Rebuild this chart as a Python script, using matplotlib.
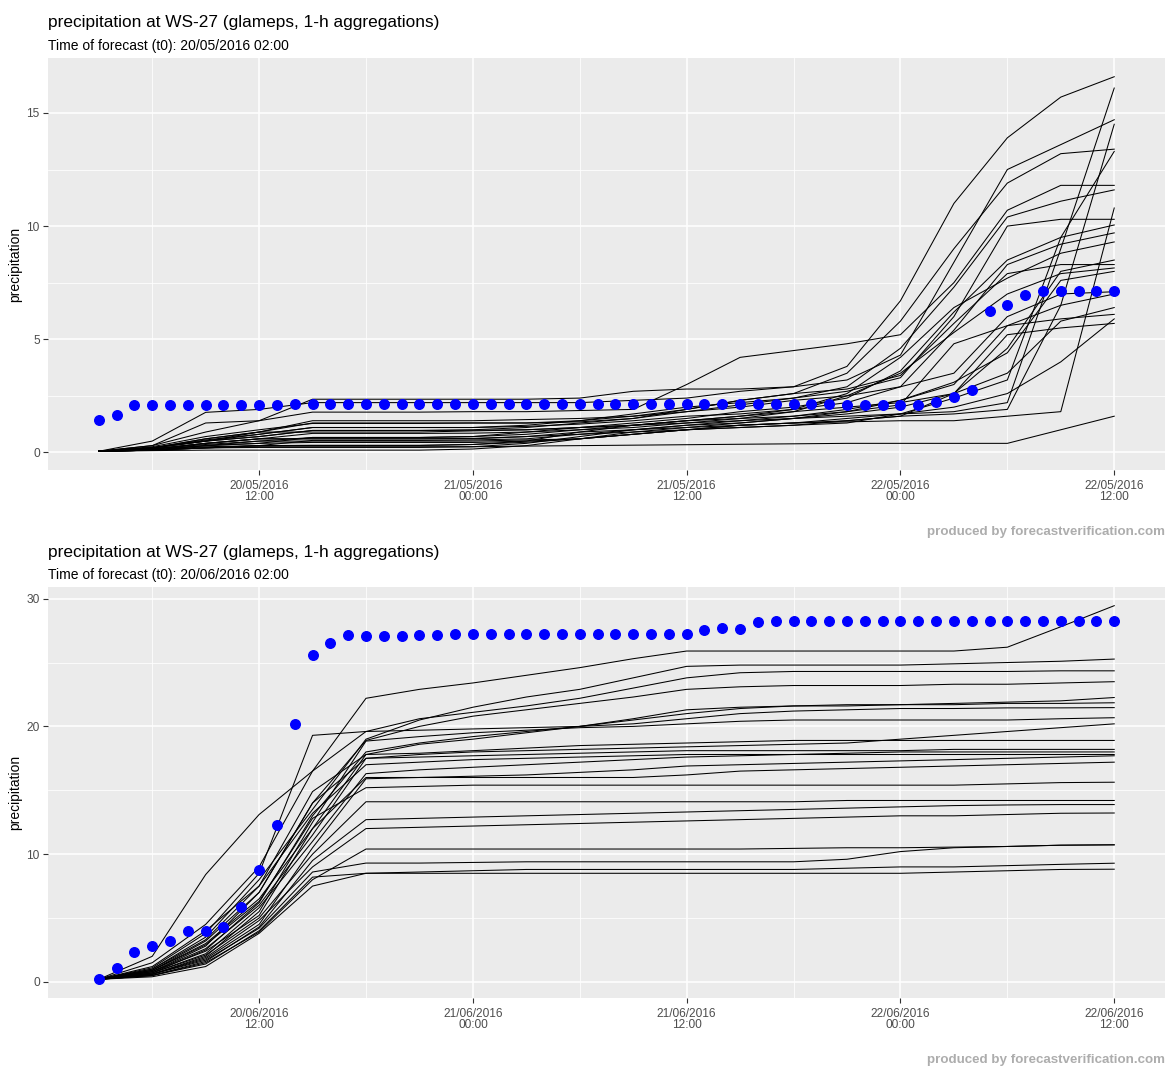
import numpy as np
import matplotlib.pyplot as plt

plt.rcParams['font.family'] = ['Liberation Sans', 'DejaVu Sans']

# hours since 00:00 of the forecast day
obs_hours = np.arange(3, 61)      # hourly observations
ens_hours = np.arange(3, 61, 3)   # 3-hourly ensemble steps

major_hours = [12, 24, 36, 48, 60]
minor_hours = [6, 18, 30, 42, 54]

may_ticks = ["20/05/2016\n12:00", "21/05/2016\n00:00", "21/05/2016\n12:00",
             "22/05/2016\n00:00", "22/05/2016\n12:00"]
jun_ticks = ["20/06/2016\n12:00", "21/06/2016\n00:00", "21/06/2016\n12:00",
             "22/06/2016\n00:00", "22/06/2016\n12:00"]

# observed accumulated precipitation (blue dots)
may_obs = [1.42, 1.64, 2.08, 2.08, 2.08, 2.08, 2.08, 2.08, 2.08, 2.08,
           2.08, 2.12, 2.12, 2.12, 2.12, 2.12, 2.12, 2.12, 2.12, 2.12,
           2.12, 2.12, 2.12, 2.12, 2.12, 2.12, 2.12, 2.12, 2.12, 2.12,
           2.12, 2.12, 2.12, 2.12, 2.12, 2.12, 2.12, 2.12, 2.12, 2.12,
           2.12, 2.12, 2.11, 2.11, 2.11, 2.11, 2.11, 2.23, 2.45, 2.77,
           6.24, 6.53, 6.95, 7.14, 7.14, 7.14, 7.14, 7.14]
jun_obs = [0.26, 1.05, 2.30, 2.80, 3.22, 4.00, 4.00, 4.32, 5.84, 8.77,
           12.3, 20.2, 25.6, 26.5, 27.15, 27.1, 27.1, 27.1, 27.15, 27.15,
           27.2, 27.25, 27.25, 27.25, 27.2, 27.2, 27.2, 27.2, 27.2, 27.23,
           27.23, 27.23, 27.23, 27.23, 27.55, 27.68, 27.63, 28.15, 28.28, 28.28,
           28.28, 28.28, 28.28, 28.28, 28.28, 28.28, 28.28, 28.28, 28.28, 28.28,
           28.28, 28.28, 28.28, 28.28, 28.28, 28.28, 28.28, 28.28]

# ensemble members, accumulated precipitation every 3 h
may_members = [
    [0.05, 0.5, 1.77, 1.9, 2.2, 2.2, 2.2, 2.2, 2.2, 2.2, 2.3, 2.4, 2.7, 2.9, 3.8, 6.7, 11.0, 13.9, 15.7, 16.6],
    [0.05, 0.2, 0.6, 0.9, 0.9, 0.9, 0.9, 0.95, 1.0, 1.1, 1.2, 1.3, 1.4, 1.5, 1.6, 1.7, 1.8, 2.2, 9.0, 16.1],
    [0.05, 0.3, 0.9, 1.4, 2.35, 2.35, 2.35, 2.35, 2.35, 2.4, 2.7, 2.8, 2.8, 2.9, 3.2, 4.3, 8.4, 12.5, 13.6, 14.7],
    [0.05, 0.15, 0.4, 0.6, 0.6, 0.6, 0.6, 0.6, 0.7, 0.9, 1.0, 1.1, 1.2, 1.3, 1.4, 1.6, 1.7, 1.9, 6.5, 14.5],
    [0.05, 0.2, 0.5, 0.8, 1.1, 1.1, 1.1, 1.1, 1.2, 1.4, 1.6, 1.9, 2.3, 2.6, 3.5, 5.8, 9.0, 11.9, 13.2, 13.4],
    [0.05, 0.1, 0.3, 0.5, 0.5, 0.5, 0.5, 0.5, 0.55, 0.6, 0.8, 1.0, 1.1, 1.2, 1.3, 1.7, 2.4, 3.2, 9.5, 13.3],
    [0.05, 0.3, 1.3, 1.4, 1.78, 1.78, 1.78, 1.8, 1.8, 1.85, 1.9, 3.0, 4.2, 4.5, 4.8, 5.2, 7.5, 10.7, 11.8, 11.8],
    [0.05, 0.2, 0.6, 0.9, 1.3, 1.3, 1.3, 1.3, 1.3, 1.4, 1.7, 2.0, 2.2, 2.4, 2.9, 4.6, 7.3, 10.4, 11.1, 11.6],
    [0.05, 0.1, 0.3, 0.4, 0.44, 0.44, 0.44, 0.44, 0.5, 0.6, 0.8, 1.0, 1.2, 1.3, 1.35, 1.4, 1.4, 1.6, 1.8, 10.8],
    [0.05, 0.2, 0.5, 0.7, 0.97, 0.97, 0.97, 1.0, 1.1, 1.3, 1.5, 1.8, 2.1, 2.4, 2.7, 3.3, 6.0, 10.0, 10.3, 10.3],
    [0.05, 0.15, 0.35, 0.5, 0.66, 0.66, 0.66, 0.7, 0.9, 1.1, 1.3, 1.5, 1.8, 2.0, 2.4, 3.6, 6.2, 8.5, 9.5, 10.05],
    [0.05, 0.1, 0.25, 0.3, 0.31, 0.31, 0.31, 0.35, 0.5, 0.9, 1.2, 1.4, 1.6, 1.9, 2.2, 2.9, 5.4, 8.3, 9.2, 9.7],
    [0.05, 0.2, 0.55, 0.8, 1.1, 1.1, 1.1, 1.1, 1.15, 1.25, 1.4, 1.6, 1.7, 1.9, 2.6, 4.2, 6.4, 7.7, 8.8, 9.3],
    [0.05, 0.1, 0.2, 0.22, 0.22, 0.22, 0.22, 0.25, 0.4, 0.7, 1.0, 1.2, 1.3, 1.5, 1.7, 2.0, 2.6, 4.6, 8.0, 8.5],
    [0.05, 0.25, 0.7, 1.0, 1.28, 1.28, 1.28, 1.3, 1.3, 1.35, 1.5, 1.9, 2.3, 2.6, 2.8, 3.4, 5.7, 7.9, 8.3, 8.3],
    [0.05, 0.15, 0.4, 0.6, 0.84, 0.84, 0.84, 0.85, 0.9, 1.0, 1.1, 1.3, 1.5, 1.8, 2.5, 3.5, 5.3, 7.0, 7.9, 8.15],
    [0.05, 0.1, 0.2, 0.3, 0.53, 0.53, 0.53, 0.55, 0.6, 0.8, 1.0, 1.2, 1.4, 1.6, 1.9, 2.3, 3.1, 4.4, 7.6, 8.0],
    [0.05, 0.2, 0.5, 0.9, 1.4, 1.4, 1.4, 1.4, 1.45, 1.5, 1.6, 1.8, 2.0, 2.3, 2.5, 2.9, 3.5, 6.0, 7.0, 7.1],
    [0.05, 0.08, 0.1, 0.1, 0.1, 0.1, 0.1, 0.15, 0.3, 0.6, 0.9, 1.1, 1.3, 1.5, 1.8, 2.3, 3.0, 5.6, 6.5, 7.0],
    [0.05, 0.2, 0.5, 0.7, 0.97, 0.97, 0.97, 0.98, 1.0, 1.1, 1.2, 1.4, 1.6, 1.8, 2.0, 2.2, 2.6, 3.5, 5.8, 6.4],
    [0.05, 0.15, 0.3, 0.4, 0.66, 0.66, 0.66, 0.7, 0.8, 1.0, 1.2, 1.4, 1.5, 1.6, 1.8, 2.1, 4.8, 5.6, 5.9, 6.1],
    [0.05, 0.1, 0.2, 0.3, 0.31, 0.31, 0.31, 0.35, 0.45, 0.6, 0.8, 1.0, 1.2, 1.3, 1.5, 1.7, 2.0, 2.6, 4.0, 5.9],
    [0.05, 0.15, 0.4, 0.6, 0.6, 0.6, 0.6, 0.62, 0.7, 0.8, 0.9, 1.0, 1.1, 1.2, 1.4, 1.6, 2.6, 5.2, 5.5, 5.7],
    [0.05, 0.1, 0.2, 0.25, 0.25, 0.25, 0.25, 0.25, 0.28, 0.3, 0.32, 0.34, 0.36, 0.38, 0.4, 0.4, 0.4, 0.4, 1.0, 1.6],
]

jun_members = [
    [0.2, 1.5, 4.5, 9.0, 16.5, 22.2, 22.9, 23.4, 24.0, 24.6, 25.3, 25.9, 25.9, 25.9, 25.9, 25.9, 25.9, 26.2, 27.8, 29.45],
    [0.2, 1.0, 3.5, 8.0, 13.5, 19.0, 20.5, 21.5, 22.3, 22.9, 23.8, 24.7, 24.8, 24.8, 24.8, 24.8, 24.9, 25.0, 25.1, 25.27],
    [0.2, 2.0, 8.4, 13.1, 16.5, 19.6, 20.6, 21.1, 21.6, 22.2, 23.0, 23.8, 24.2, 24.3, 24.3, 24.3, 24.3, 24.3, 24.35, 24.35],
    [0.2, 0.8, 2.8, 7.0, 14.0, 18.9, 20.0, 20.8, 21.3, 21.8, 22.3, 22.9, 23.1, 23.2, 23.2, 23.2, 23.3, 23.3, 23.4, 23.5],
    [0.2, 0.9, 3.0, 6.5, 12.0, 17.8, 18.6, 19.0, 19.5, 20.0, 20.6, 21.3, 21.5, 21.6, 21.6, 21.7, 21.8, 21.9, 22.0, 22.26],
    [0.2, 0.7, 2.5, 6.2, 13.0, 18.0, 18.7, 19.2, 19.6, 20.0, 20.5, 21.0, 21.4, 21.6, 21.7, 21.7, 21.7, 21.8, 21.8, 21.85],
    [0.2, 1.1, 3.8, 8.5, 19.3, 19.6, 19.7, 19.8, 19.9, 20.0, 20.2, 20.6, 21.0, 21.2, 21.3, 21.4, 21.4, 21.45, 21.45, 21.47],
    [0.2, 0.6, 2.0, 5.5, 12.5, 18.85, 19.2, 19.5, 19.7, 19.9, 20.0, 20.2, 20.4, 20.5, 20.5, 20.5, 20.5, 20.5, 20.6, 20.68],
    [0.2, 0.8, 2.6, 6.0, 11.5, 17.5, 17.8, 18.0, 18.1, 18.2, 18.3, 18.4, 18.5, 18.6, 18.7, 19.0, 19.3, 19.6, 19.9, 20.2],
    [0.2, 1.2, 4.0, 7.5, 14.9, 17.8, 17.9, 18.1, 18.3, 18.5, 18.6, 18.7, 18.8, 18.9, 18.9, 18.9, 18.9, 18.9, 18.9, 18.9],
    [0.2, 0.9, 3.2, 7.0, 14.0, 17.5, 17.6, 17.7, 17.8, 17.9, 18.0, 18.1, 18.1, 18.1, 18.1, 18.1, 18.2, 18.2, 18.2, 18.2],
    [0.2, 0.7, 2.2, 5.8, 11.0, 16.3, 16.6, 16.8, 17.0, 17.2, 17.4, 17.6, 17.7, 17.8, 17.9, 18.0, 18.0, 18.0, 18.0, 18.0],
    [0.2, 1.0, 3.3, 7.5, 13.2, 17.0, 17.2, 17.4, 17.5, 17.6, 17.7, 17.8, 17.8, 17.8, 17.8, 17.8, 17.8, 17.8, 17.8, 17.8],
    [0.2, 0.6, 1.8, 4.5, 10.5, 15.9, 16.0, 16.1, 16.2, 16.4, 16.6, 16.9, 17.0, 17.1, 17.2, 17.3, 17.4, 17.5, 17.6, 17.7],
    [0.2, 0.8, 2.4, 5.2, 12.0, 16.0, 16.0, 16.0, 16.0, 16.0, 16.0, 16.2, 16.5, 16.6, 16.7, 16.8, 16.9, 17.0, 17.1, 17.2],
    [0.2, 0.9, 2.9, 6.3, 12.8, 15.2, 15.3, 15.4, 15.4, 15.4, 15.4, 15.4, 15.4, 15.4, 15.4, 15.4, 15.4, 15.5, 15.6, 15.63],
    [0.2, 0.7, 2.1, 5.0, 10.0, 14.1, 14.1, 14.1, 14.1, 14.1, 14.1, 14.1, 14.1, 14.1, 14.2, 14.2, 14.2, 14.2, 14.2, 14.2],
    [0.2, 0.5, 1.6, 4.3, 9.5, 12.7, 12.8, 12.9, 13.0, 13.1, 13.2, 13.3, 13.4, 13.5, 13.6, 13.7, 13.8, 13.85, 13.88, 13.88],
    [0.2, 0.6, 1.9, 4.8, 9.0, 12.0, 12.1, 12.2, 12.3, 12.4, 12.5, 12.6, 12.7, 12.8, 12.9, 13.0, 13.0, 13.1, 13.2, 13.22],
    [0.2, 0.5, 1.5, 3.9, 8.0, 10.4, 10.4, 10.4, 10.4, 10.4, 10.4, 10.4, 10.4, 10.45, 10.5, 10.5, 10.55, 10.6, 10.7, 10.73],
    [0.2, 0.6, 1.7, 4.2, 8.6, 9.3, 9.3, 9.35, 9.4, 9.4, 9.4, 9.4, 9.4, 9.4, 9.6, 10.2, 10.5, 10.6, 10.7, 10.73],
    [0.2, 0.5, 1.4, 4.0, 8.2, 8.5, 8.6, 8.7, 8.8, 8.8, 8.8, 8.8, 8.8, 8.8, 8.9, 9.0, 9.0, 9.1, 9.2, 9.29],
    [0.2, 0.4, 1.2, 3.8, 7.5, 8.5, 8.5, 8.5, 8.5, 8.5, 8.5, 8.5, 8.5, 8.5, 8.5, 8.5, 8.6, 8.7, 8.8, 8.82],
]

title = "precipitation at WS-27 (glameps, 1-h aggregations)"
caption = "produced by forecastverification.com"

fig = plt.figure(figsize=(11.66, 10.66), dpi=100)
W, H = 1166, 1066


def panel(top_px, bottom_px, members, obs, ticklabels, ybreaks, yminor, t0):
    ax = fig.add_axes([48 / W, 1 - bottom_px / H, 1117 / W, (bottom_px - top_px) / H])
    ax.set_facecolor('#EBEBEB')
    for s in ax.spines.values():
        s.set_visible(False)

    for m in members:
        ax.plot(ens_hours, m, color='black', lw=0.75, zorder=3)
    ax.plot(obs_hours, obs, 'o', color='#0000FF', ms=6.9, mec='#0000FF', zorder=4)

    x0, x1 = obs_hours[0], obs_hours[-1]
    pad = 0.05 * (x1 - x0)
    ax.set_xlim(x0 - pad, x1 + pad)
    lo = min(min(min(m) for m in members), min(obs))
    hi = max(max(max(m) for m in members), max(obs))
    ypad = 0.05 * (hi - lo)
    ax.set_ylim(lo - ypad, hi + ypad)

    ax.set_xticks(major_hours)
    ax.set_xticklabels(ticklabels, linespacing=0.95)
    ax.set_xticks(minor_hours, minor=True)
    ax.set_yticks(ybreaks)
    ax.set_yticks(yminor, minor=True)
    ax.grid(which='major', color='white', lw=1.1, zorder=0)
    ax.grid(which='minor', color='white', lw=0.55, zorder=0)
    ax.set_axisbelow(True)
    ax.tick_params(which='major', length=3.5, width=0.8, color='#333333',
                   labelcolor='#4D4D4D', labelsize=8.6, pad=3.5)
    ax.tick_params(axis='y', which='major', pad=2.5)
    ax.tick_params(which='minor', length=0)
    ax.set_ylabel("precipitation", fontsize=10, labelpad=3)

    fig.text(48 / W, 1 - (top_px - 35) / H, title, fontsize=12.4, va='center', ha='left')
    fig.text(48 / W, 1 - (top_px - 12) / H, "Time of forecast (t0): " + t0,
             fontsize=10, va='center', ha='left')
    fig.text(1165 / W, 1 - (bottom_px + 62) / H, caption, fontsize=9.6,
             fontweight='bold', color='#ADADAD', va='center', ha='right')
    return ax


panel(58, 470, may_members, may_obs, may_ticks, [0, 5, 10, 15], [2.5, 7.5, 12.5],
      "20/05/2016 02:00")
panel(587, 998, jun_members, jun_obs, jun_ticks, [0, 10, 20, 30], [5, 15, 25],
      "20/06/2016 02:00")

fig.savefig("out.png", dpi=100)
